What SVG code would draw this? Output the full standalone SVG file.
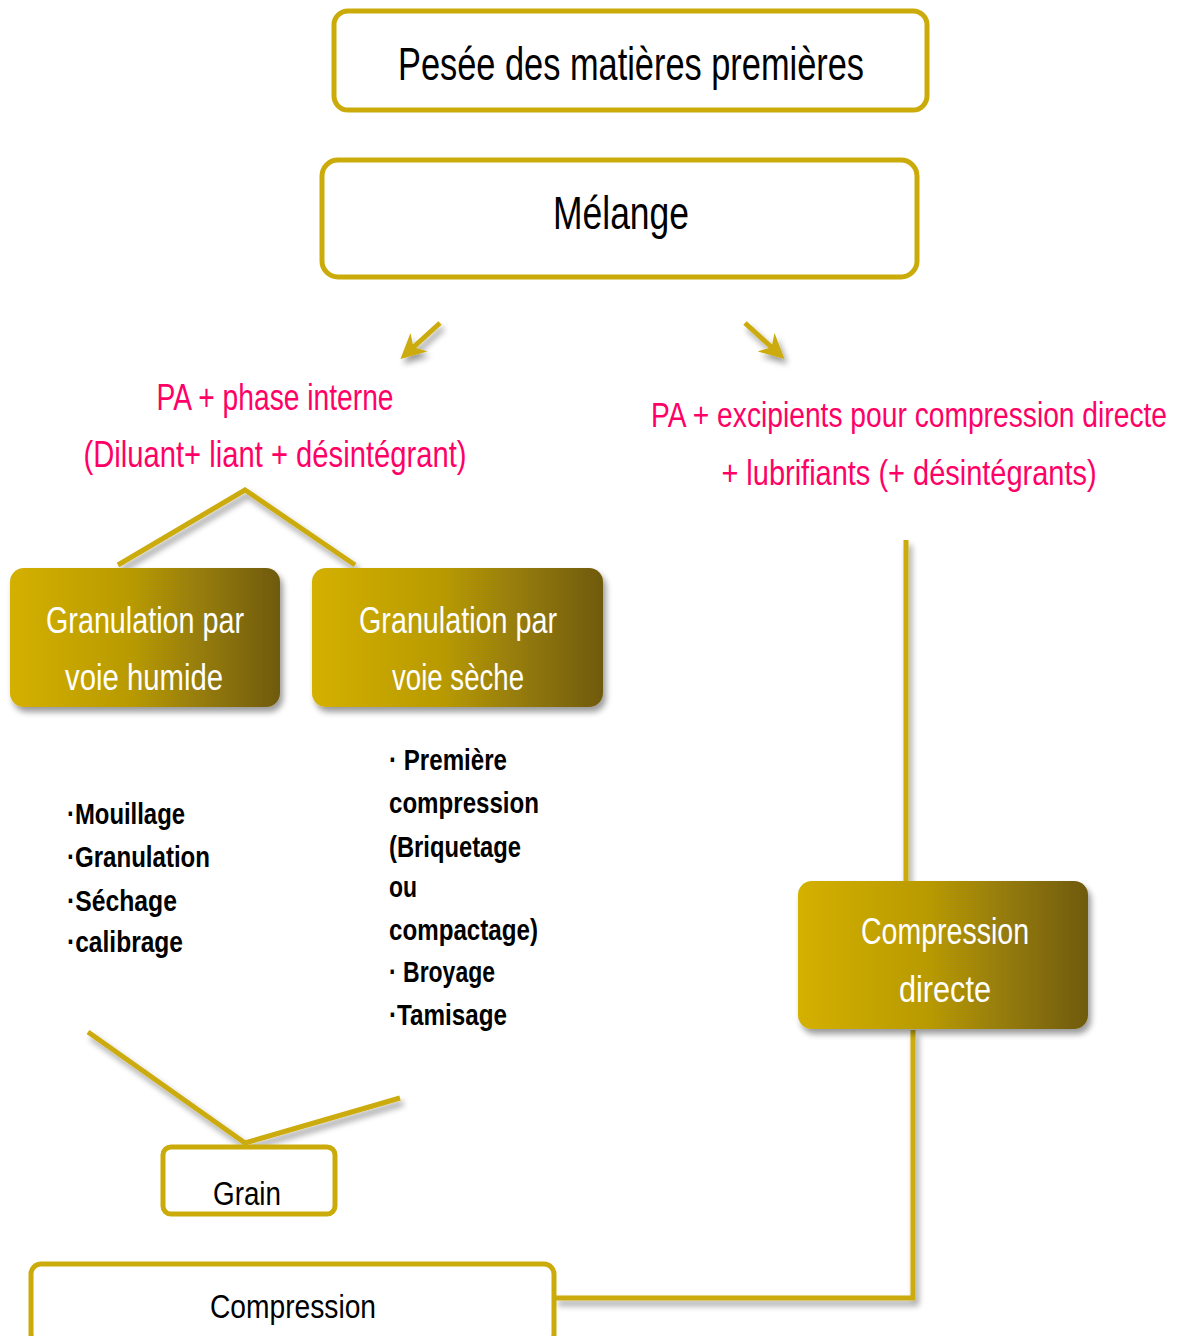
<svg xmlns="http://www.w3.org/2000/svg" width="1181" height="1336" viewBox="0 0 1181 1336">
<defs>
<linearGradient id="gold" x1="0" y1="0" x2="1" y2="0">
<stop offset="0" stop-color="#d4b000"/>
<stop offset="0.45" stop-color="#b89a06"/>
<stop offset="1" stop-color="#6f5a08"/>
</linearGradient>
<filter id="sh" x="-10%" y="-10%" width="125%" height="130%">
<feGaussianBlur in="SourceAlpha" stdDeviation="3"/>
<feOffset dx="3" dy="5" result="b"/>
<feComponentTransfer><feFuncA type="linear" slope="0.4"/></feComponentTransfer>
<feMerge><feMergeNode/><feMergeNode in="SourceGraphic"/></feMerge>
</filter>
<marker id="ah" viewBox="0 0 10 10" refX="7" refY="5" markerWidth="5" markerHeight="5" orient="auto">
<path d="M0,0 L10,5 L0,10 L3,5 z" fill="#cbab0a"/>
</marker>
</defs>
<style>
.wb{fill:#fff;stroke:#cbab0a;stroke-width:5}
.gb{fill:url(#gold);filter:url(#sh)}
.t{font-family:"Liberation Sans Narrow","Liberation Sans",sans-serif;fill:#000}
.w{font-family:"Liberation Sans Narrow","Liberation Sans",sans-serif;fill:#fff;font-size:36px}
.r{font-family:"Liberation Sans Narrow","Liberation Sans",sans-serif;fill:#ff0066;font-size:36px}
.l{font-family:"Liberation Sans Narrow","Liberation Sans",sans-serif;fill:#000;font-size:29px;font-weight:bold}
.c{fill:none;stroke:#cbab0a;stroke-width:5}
</style>
<rect width="1181" height="1336" fill="#fff"/>
<g id="connectors" filter="url(#sh)">
<line class="c" x1="440" y1="323" x2="406" y2="354" marker-end="url(#ah)" stroke-width="6"/>
<line class="c" x1="745" y1="323" x2="779" y2="354" marker-end="url(#ah)" stroke-width="6"/>
<polyline class="c" points="118,565 245,490 355,565"/>
<line class="c" x1="906" y1="540" x2="906" y2="882"/>
<polyline class="c" points="913,1030 913,1298 555,1298"/>
<polyline class="c" points="88,1032 245,1143 400,1098"/>
</g>
<g id="n-pesee">
<rect class="wb" x="334" y="11" width="593" height="99" rx="14"/>
<text class="t" x="631" y="80" font-size="46" text-anchor="middle" textLength="466" lengthAdjust="spacingAndGlyphs">Pesée des matières premières</text>
</g>
<g id="n-melange">
<rect class="wb" x="322" y="160" width="595" height="117" rx="16"/>
<text class="t" x="621" y="229" font-size="46" text-anchor="middle" textLength="136" lengthAdjust="spacingAndGlyphs">Mélange</text>
</g>
<g id="n-pa-interne">
<text class="r" x="275" y="410" text-anchor="middle" textLength="237" lengthAdjust="spacingAndGlyphs">PA + phase interne</text>
<text class="r" x="275" y="467" text-anchor="middle" textLength="383" lengthAdjust="spacingAndGlyphs">(Diluant+ liant + désintégrant)</text>
</g>
<g id="n-pa-directe">
<text class="r" transform="translate(909,427) scale(0.8,1)" x="0" y="0" text-anchor="middle" textLength="645" lengthAdjust="spacingAndGlyphs">PA + excipients pour compression directe</text>
<text class="r" transform="translate(909,485) scale(0.8,1)" x="0" y="0" text-anchor="middle" textLength="469" lengthAdjust="spacingAndGlyphs">+ lubrifiants (+ désintégrants)</text>
</g>
<g id="n-humide">
<rect class="gb" x="10" y="568" width="270" height="139" rx="14"/>
<text class="w" x="145" y="633" text-anchor="middle" textLength="198" lengthAdjust="spacingAndGlyphs">Granulation par</text>
<text class="w" x="144" y="690" text-anchor="middle" textLength="158" lengthAdjust="spacingAndGlyphs">voie humide</text>
</g>
<g id="n-seche">
<rect class="gb" x="312" y="568" width="291" height="139" rx="14"/>
<text class="w" x="458" y="633" text-anchor="middle" textLength="198" lengthAdjust="spacingAndGlyphs">Granulation par</text>
<text class="w" x="458" y="690" text-anchor="middle" textLength="132" lengthAdjust="spacingAndGlyphs">voie sèche</text>
</g>
<g id="n-list-humide">
<text class="l" x="67" y="824" textLength="118" lengthAdjust="spacingAndGlyphs">·Mouillage</text>
<text class="l" x="67" y="867" textLength="143" lengthAdjust="spacingAndGlyphs">·Granulation</text>
<text class="l" x="67" y="911" textLength="110" lengthAdjust="spacingAndGlyphs">·Séchage</text>
<text class="l" x="67" y="952" textLength="116" lengthAdjust="spacingAndGlyphs">·calibrage</text>
</g>
<g id="n-list-seche">
<text class="l" x="389" y="770" textLength="118" lengthAdjust="spacingAndGlyphs">· Première</text>
<text class="l" x="389" y="813" textLength="150" lengthAdjust="spacingAndGlyphs">compression</text>
<text class="l" x="389" y="857" textLength="132" lengthAdjust="spacingAndGlyphs">(Briquetage</text>
<text class="l" x="389" y="897" textLength="28" lengthAdjust="spacingAndGlyphs">ou</text>
<text class="l" x="389" y="940" textLength="149" lengthAdjust="spacingAndGlyphs">compactage)</text>
<text class="l" x="389" y="982" textLength="106" lengthAdjust="spacingAndGlyphs">· Broyage</text>
<text class="l" x="389" y="1025" textLength="118" lengthAdjust="spacingAndGlyphs">·Tamisage</text>
</g>
<g id="n-directe">
<rect class="gb" x="798" y="881" width="290" height="148" rx="14"/>
<text class="w" x="945" y="944" text-anchor="middle" textLength="168" lengthAdjust="spacingAndGlyphs">Compression</text>
<text class="w" x="945" y="1002" text-anchor="middle" textLength="92" lengthAdjust="spacingAndGlyphs">directe</text>
</g>
<g id="n-grain">
<rect class="wb" x="163" y="1147" width="172" height="67" rx="8"/>
<text class="t" x="247" y="1205" font-size="34" text-anchor="middle" textLength="68" lengthAdjust="spacingAndGlyphs">Grain</text>
</g>
<g id="n-compression">
<rect class="wb" x="31" y="1264" width="523" height="80" rx="10"/>
<text class="t" x="293" y="1318" font-size="34" text-anchor="middle" textLength="166" lengthAdjust="spacingAndGlyphs">Compression</text>
</g>
</svg>
